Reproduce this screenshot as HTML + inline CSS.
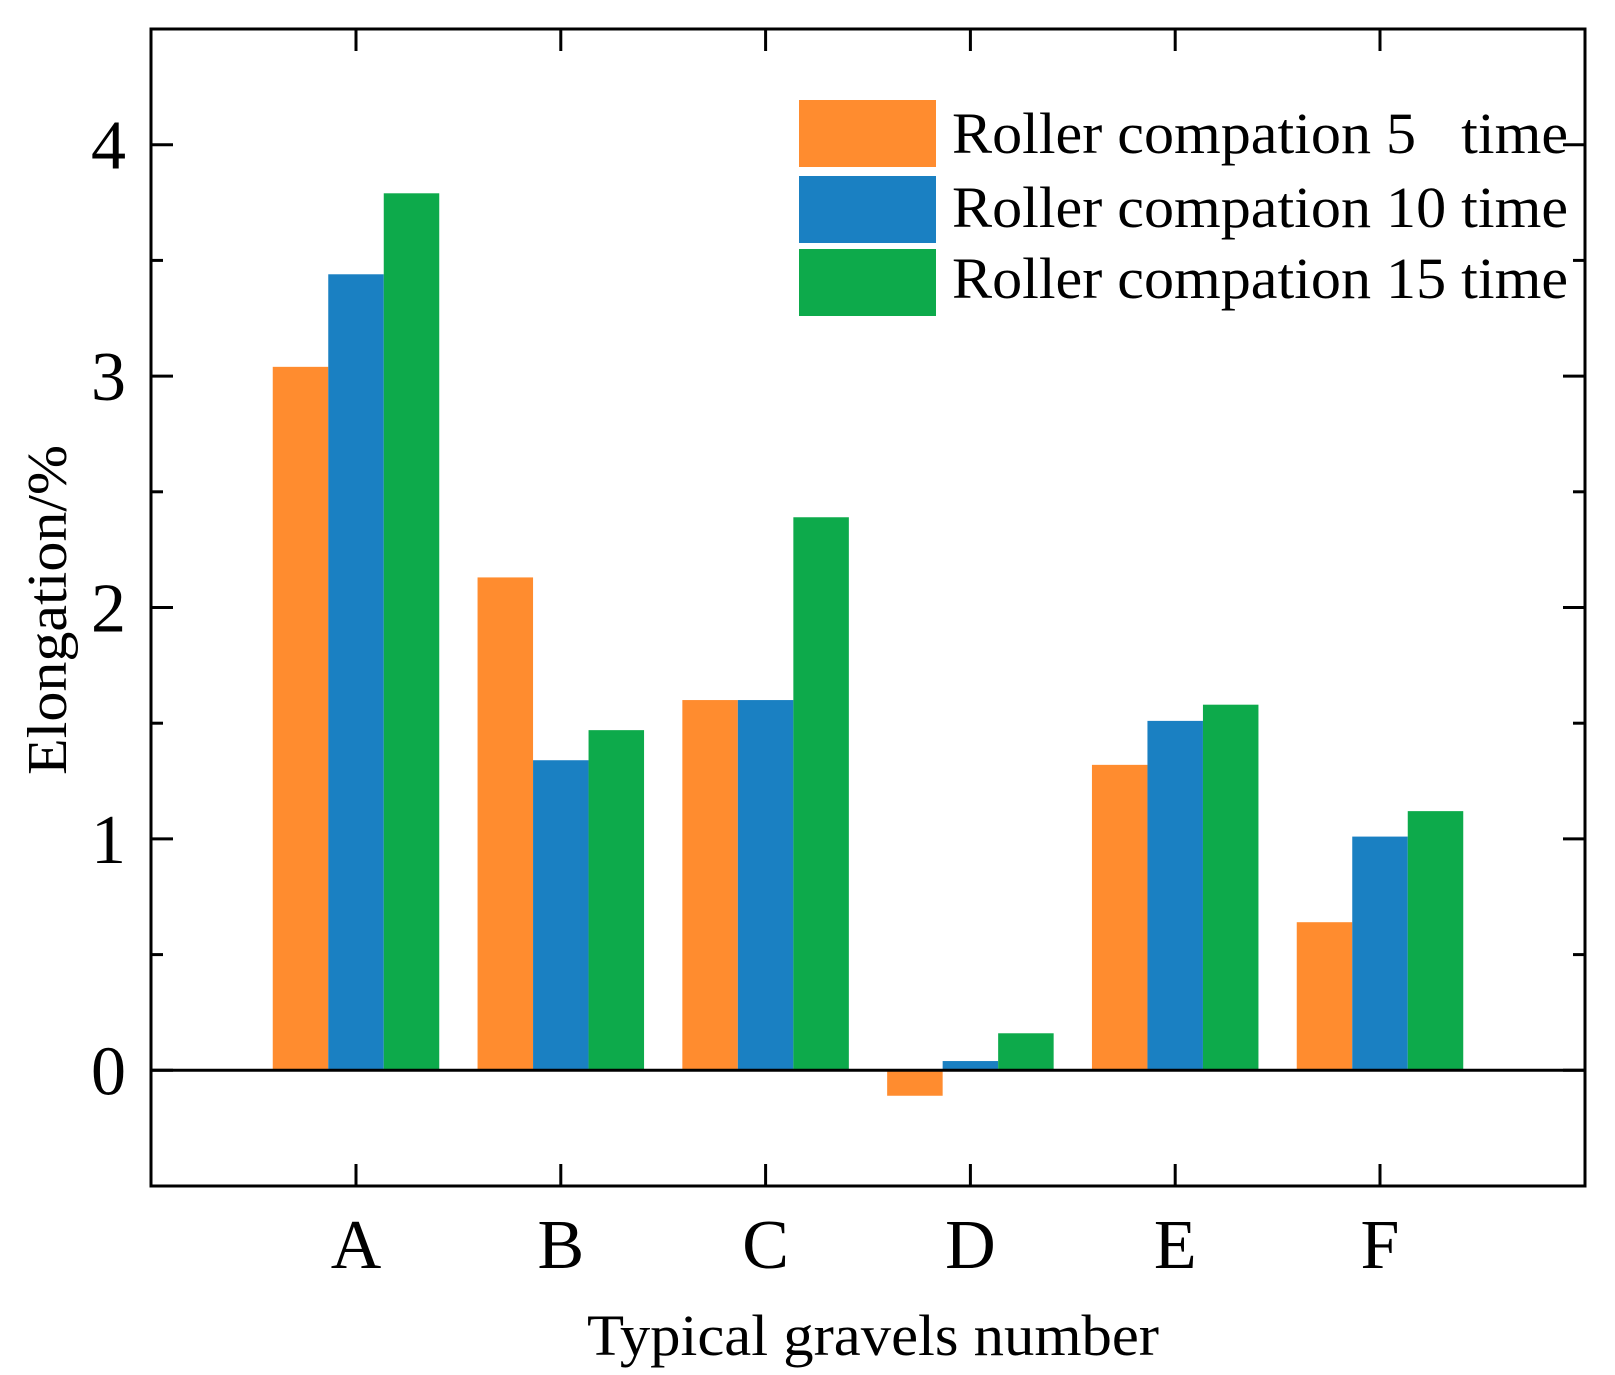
<!DOCTYPE html>
<html><head><meta charset="utf-8"><style>
html,body{margin:0;padding:0;background:#fff;}
svg{display:block;font-family:"Liberation Serif",serif;}
text{white-space:pre;}
</style></head><body>
<svg id="chart" width="1615" height="1375" viewBox="0 0 1615 1375" xmlns="http://www.w3.org/2000/svg"></svg>
<script>
const categories = ["A","B","C","D","E","F"];
const series5 = [3.04, 2.13, 1.60, -0.11, 1.32, 0.64];
const series10 = [3.44, 1.34, 1.60, 0.04, 1.51, 1.01];
const series15 = [3.79, 1.47, 2.39, 0.16, 1.58, 1.12];
const yTicks = [0, 1, 2, 3, 4];
const yMinorTicks = [-0.5, 0.5, 1.5, 2.5, 3.5, 4.5];
const seriesNames = ["Roller compation 5   time","Roller compation 10 time","Roller compation 15 time"];

const NS = "http://www.w3.org/2000/svg";
const svg = document.getElementById("chart");
const L = 151, R = 1585, T = 29, B = 1186;
const yMin = -0.5, yMax = 4.5;
const y = v => B - (v - yMin) / (yMax - yMin) * (B - T);
const x0 = 356, xStep = 204.8;
const x = i => x0 + i * xStep;
const barW = 55.5;
const colors = ["#FF8C2F", "#1A80C2", "#0DAA4B"];
const allSeries = [series5, series10, series15];

function el(tag, attrs, parent) {
  const e = document.createElementNS(NS, tag);
  for (const k in attrs) e.setAttribute(k, attrs[k]);
  (parent || svg).appendChild(e);
  return e;
}

allSeries.forEach((s, si) => {
  s.forEach((v, i) => {
    const bx = x(i) - 1.5 * barW + si * barW;
    const top = Math.min(y(v), y(0)), h = Math.abs(y(v) - y(0));
    const r = el("rect", {x: bx, y: top, width: barW, height: h, fill: colors[si]});
    
    
  });
});

const zl = el("line", {x1: L, x2: R, y1: y(0), y2: y(0), stroke: "#000", "stroke-width": 3});



const fr = el("rect", {x: L, y: T, width: R - L, height: B - T, fill: "none", stroke: "#000", "stroke-width": 3});



yTicks.forEach(v => {
  const t1 = el("line", {x1: L, x2: L + 22, y1: y(v), y2: y(v), stroke: "#000", "stroke-width": 3});
  
  
  const t2 = el("line", {x1: R, x2: R - 22, y1: y(v), y2: y(v), stroke: "#000", "stroke-width": 3});
  
  
  const tx = el("text", {x: 126, y: y(v) + 24, "text-anchor": "end", "font-size": 70});
  tx.textContent = v;
  
  
});
yMinorTicks.forEach(v => {
  const t1 = el("line", {x1: L, x2: L + 12, y1: y(v), y2: y(v), stroke: "#000", "stroke-width": 3});
  
  
  const t2 = el("line", {x1: R, x2: R - 12, y1: y(v), y2: y(v), stroke: "#000", "stroke-width": 3});
  
  
});

categories.forEach((c, i) => {
  const t1 = el("line", {x1: x(i), x2: x(i), y1: B, y2: B - 22, stroke: "#000", "stroke-width": 3});
  
  
  const t2 = el("line", {x1: x(i), x2: x(i), y1: T, y2: T + 22, stroke: "#000", "stroke-width": 3});
  
  
  const tx = el("text", {x: x(i), y: 1268, "text-anchor": "middle", "font-size": 70});
  tx.textContent = c;
  
  
});

const xt = el("text", {x: 873, y: 1355, "text-anchor": "middle", "font-size": 58, textLength: 572, lengthAdjust: "spacingAndGlyphs"});
xt.textContent = "Typical gravels number";


const yt = el("text", {x: 0, y: 0, "text-anchor": "middle", "font-size": 56, textLength: 330, lengthAdjust: "spacingAndGlyphs", transform: "translate(66,610) rotate(-90)"});
yt.textContent = "Elongation/%";



const legY = [100, 176, 249];
const legBase = [153, 227, 298];
seriesNames.forEach((n, i) => {
  const r = el("rect", {x: 799, y: legY[i], width: 137, height: 67, fill: colors[i]});
  
  
  const t = el("text", {x: 952, y: legBase[i], "font-size": 58, textLength: 616, lengthAdjust: "spacingAndGlyphs"});
  t.textContent = n;
  
  
});
</script>
</body></html>
